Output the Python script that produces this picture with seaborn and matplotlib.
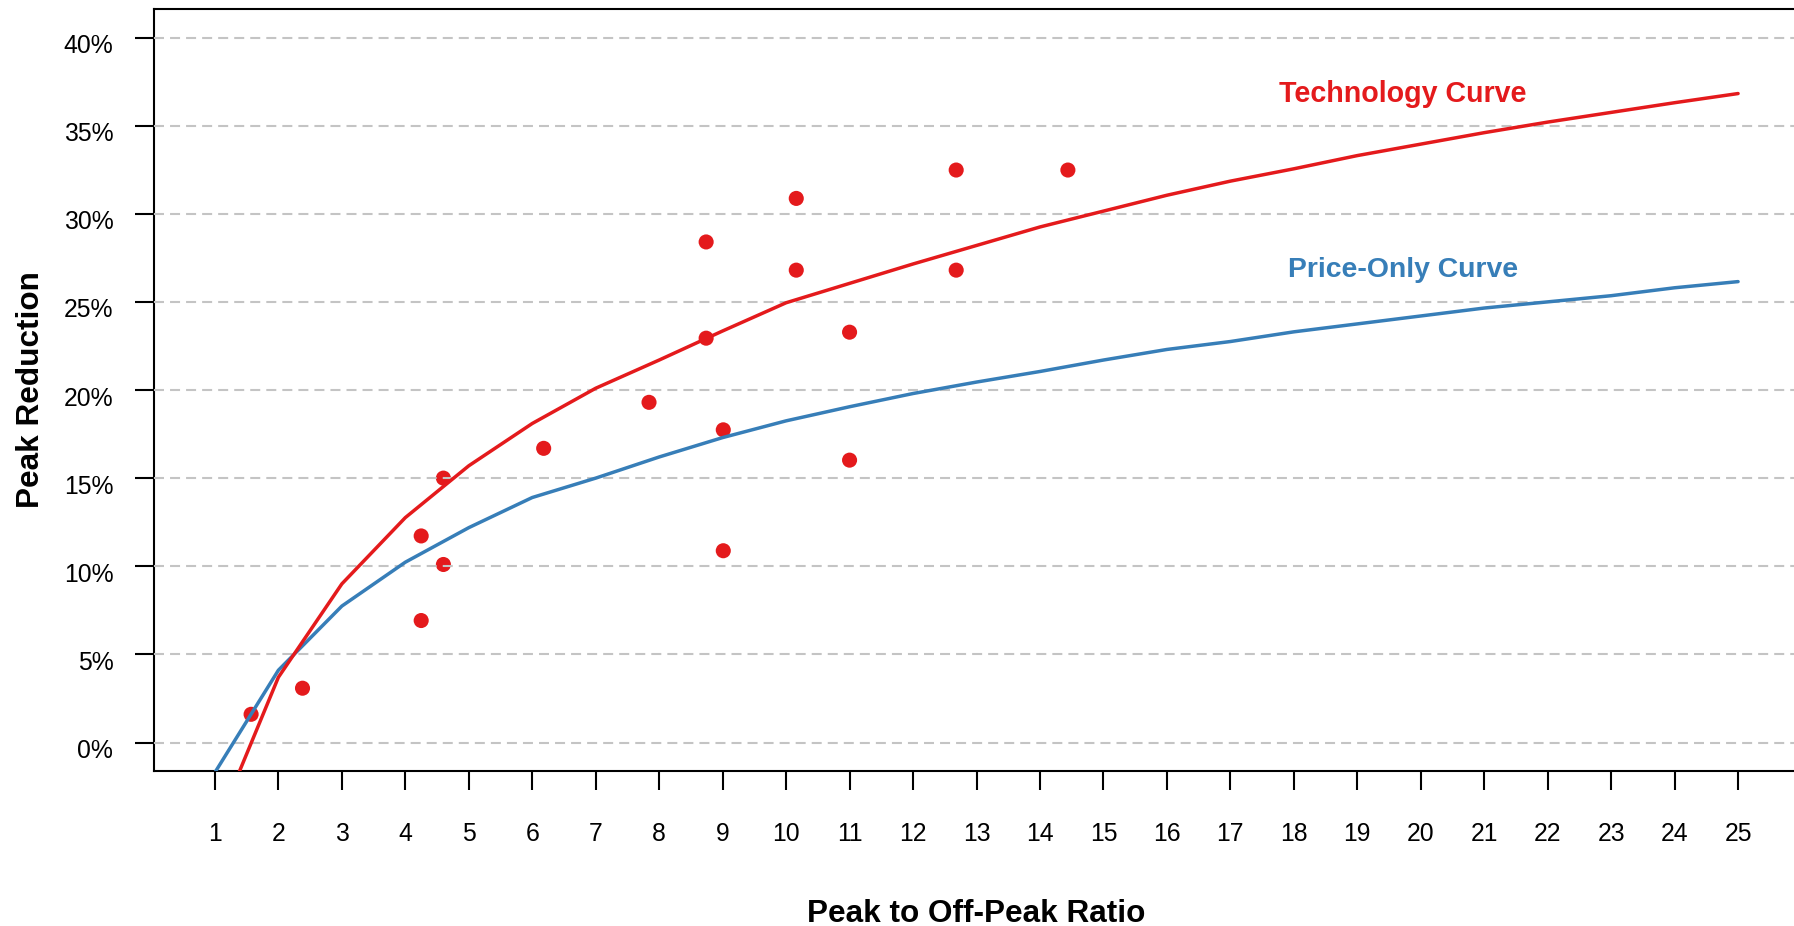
import matplotlib
matplotlib.use("Agg")
import matplotlib.pyplot as plt
from matplotlib.transforms import ScaledTranslation
import seaborn as sns
import pandas as pd
import numpy as np

# ---------------- data ----------------
ratio = list(range(1, 26))
technology_curve = [-5.0, 3.7, 9.0, 12.76, 15.7, 18.1, 20.1, 21.7, 23.35, 24.95,
                    26.05, 27.15, 28.2, 29.25, 30.15, 31.05, 31.85, 32.55, 33.3, 33.95,
                    34.6, 35.2, 35.75, 36.3, 36.82]
price_only_curve = [-1.7, 4.1, 7.74, 10.23, 12.19, 13.9, 15.0, 16.2, 17.3, 18.25,
                    19.05, 19.8, 20.45, 21.05, 21.7, 22.3, 22.75, 23.3, 23.75, 24.2,
                    24.65, 25.0, 25.35, 25.8, 26.15]

pilot_ratio = [1.57, 2.38, 4.25, 4.25, 4.60, 4.60, 6.18, 7.84, 8.74, 8.74,
               9.01, 9.01, 10.16, 10.16, 11.0, 11.0, 12.68, 12.68, 14.44]
pilot_reduction = [1.6, 3.08, 6.92, 11.72, 10.1, 15.0, 16.69, 19.3, 22.94, 28.4,
                   17.74, 10.88, 30.87, 26.8, 23.28, 16.02, 32.48, 26.8, 32.48]

y_ticks = [0, 5, 10, 15, 20, 25, 30, 35, 40]
y_tick_labels = [f"{v}%" for v in y_ticks]
x_ticks = ratio

RED = "#E41A1C"
BLUE = "#377EB8"

# ---------------- style ----------------
sns.set_style("ticks")
plt.rcParams["font.family"] = ["Liberation Sans", "DejaVu Sans"]
plt.rcParams["text.color"] = "black"
plt.rcParams["axes.labelcolor"] = "black"

W, H = 1794, 926
fig = plt.figure(figsize=(W / 100, H / 100), dpi=100)
left_px, right_px, top_px, bot_px = 154, 1799, 9.3, 770.7
ax = fig.add_axes([left_px / W, (H - bot_px) / H,
                   (right_px - left_px) / W, (bot_px - top_px) / H])

curves = pd.DataFrame({"ratio": ratio, "tech": technology_curve, "price": price_only_curve})
pts = pd.DataFrame({"ratio": pilot_ratio, "reduction": pilot_reduction})

sns.scatterplot(data=pts, x="ratio", y="reduction", ax=ax, color=RED, s=118,
                edgecolor="none", linewidth=0, zorder=1)
sns.lineplot(data=curves, x="ratio", y="price", ax=ax, color=BLUE, lw=2.5, zorder=3)
sns.lineplot(data=curves, x="ratio", y="tech", ax=ax, color=RED, lw=2.5, zorder=3)

ax.set_xlim(0.04, 25.96)
ax.set_ylim(-1.6, 41.6)
ax.set_xticks(x_ticks)
ax.set_xticklabels([str(v) for v in x_ticks])
ax.set_yticks(y_ticks)
ax.set_yticklabels(y_tick_labels)

ax.set_axisbelow(False)
ax.grid(axis="y", color="#C4C4C4", lw=1.5, linestyle=(0, (4.8, 2.9)))
ax.grid(axis="x", visible=False)

for side in ["left", "bottom", "top"]:
    ax.spines[side].set_visible(True)
    ax.spines[side].set_linewidth(1.5)
    ax.spines[side].set_color("black")
ax.spines["right"].set_visible(False)

ax.tick_params(axis="both", direction="out", length=13.7, width=1.5, color="black",
               labelsize=17.8, labelcolor="black")
ax.tick_params(axis="x", pad=23.5)
ax.tick_params(axis="y", pad=15.6)
offset = ScaledTranslation(0, -6 / 100, fig.dpi_scale_trans)
for lab in ax.get_yticklabels():
    lab.set_transform(lab.get_transform() + offset)

ax.set_xlabel("Peak to Off-Peak Ratio", fontsize=22.7, fontweight="bold", color="black")
ax.set_ylabel("Peak Reduction", fontsize=22.7, fontweight="bold", color="black")
ax.xaxis.set_label_coords(0.5, (bot_px - 913.5) / (bot_px - top_px))
ax.xaxis.label.set_verticalalignment("center")
ax.yaxis.set_label_coords((31.5 - left_px) / (right_px - left_px), 0.5)
ax.yaxis.label.set_verticalalignment("center")

ax.text(19.72, 36.82, "Technology Curve", color=RED, fontsize=20.6,
        fontweight="bold", ha="center", va="center")
ax.text(19.72, 26.82, "Price-Only Curve", color=BLUE, fontsize=20.4,
        fontweight="bold", ha="center", va="center")

fig.savefig("out.png", dpi=100)
